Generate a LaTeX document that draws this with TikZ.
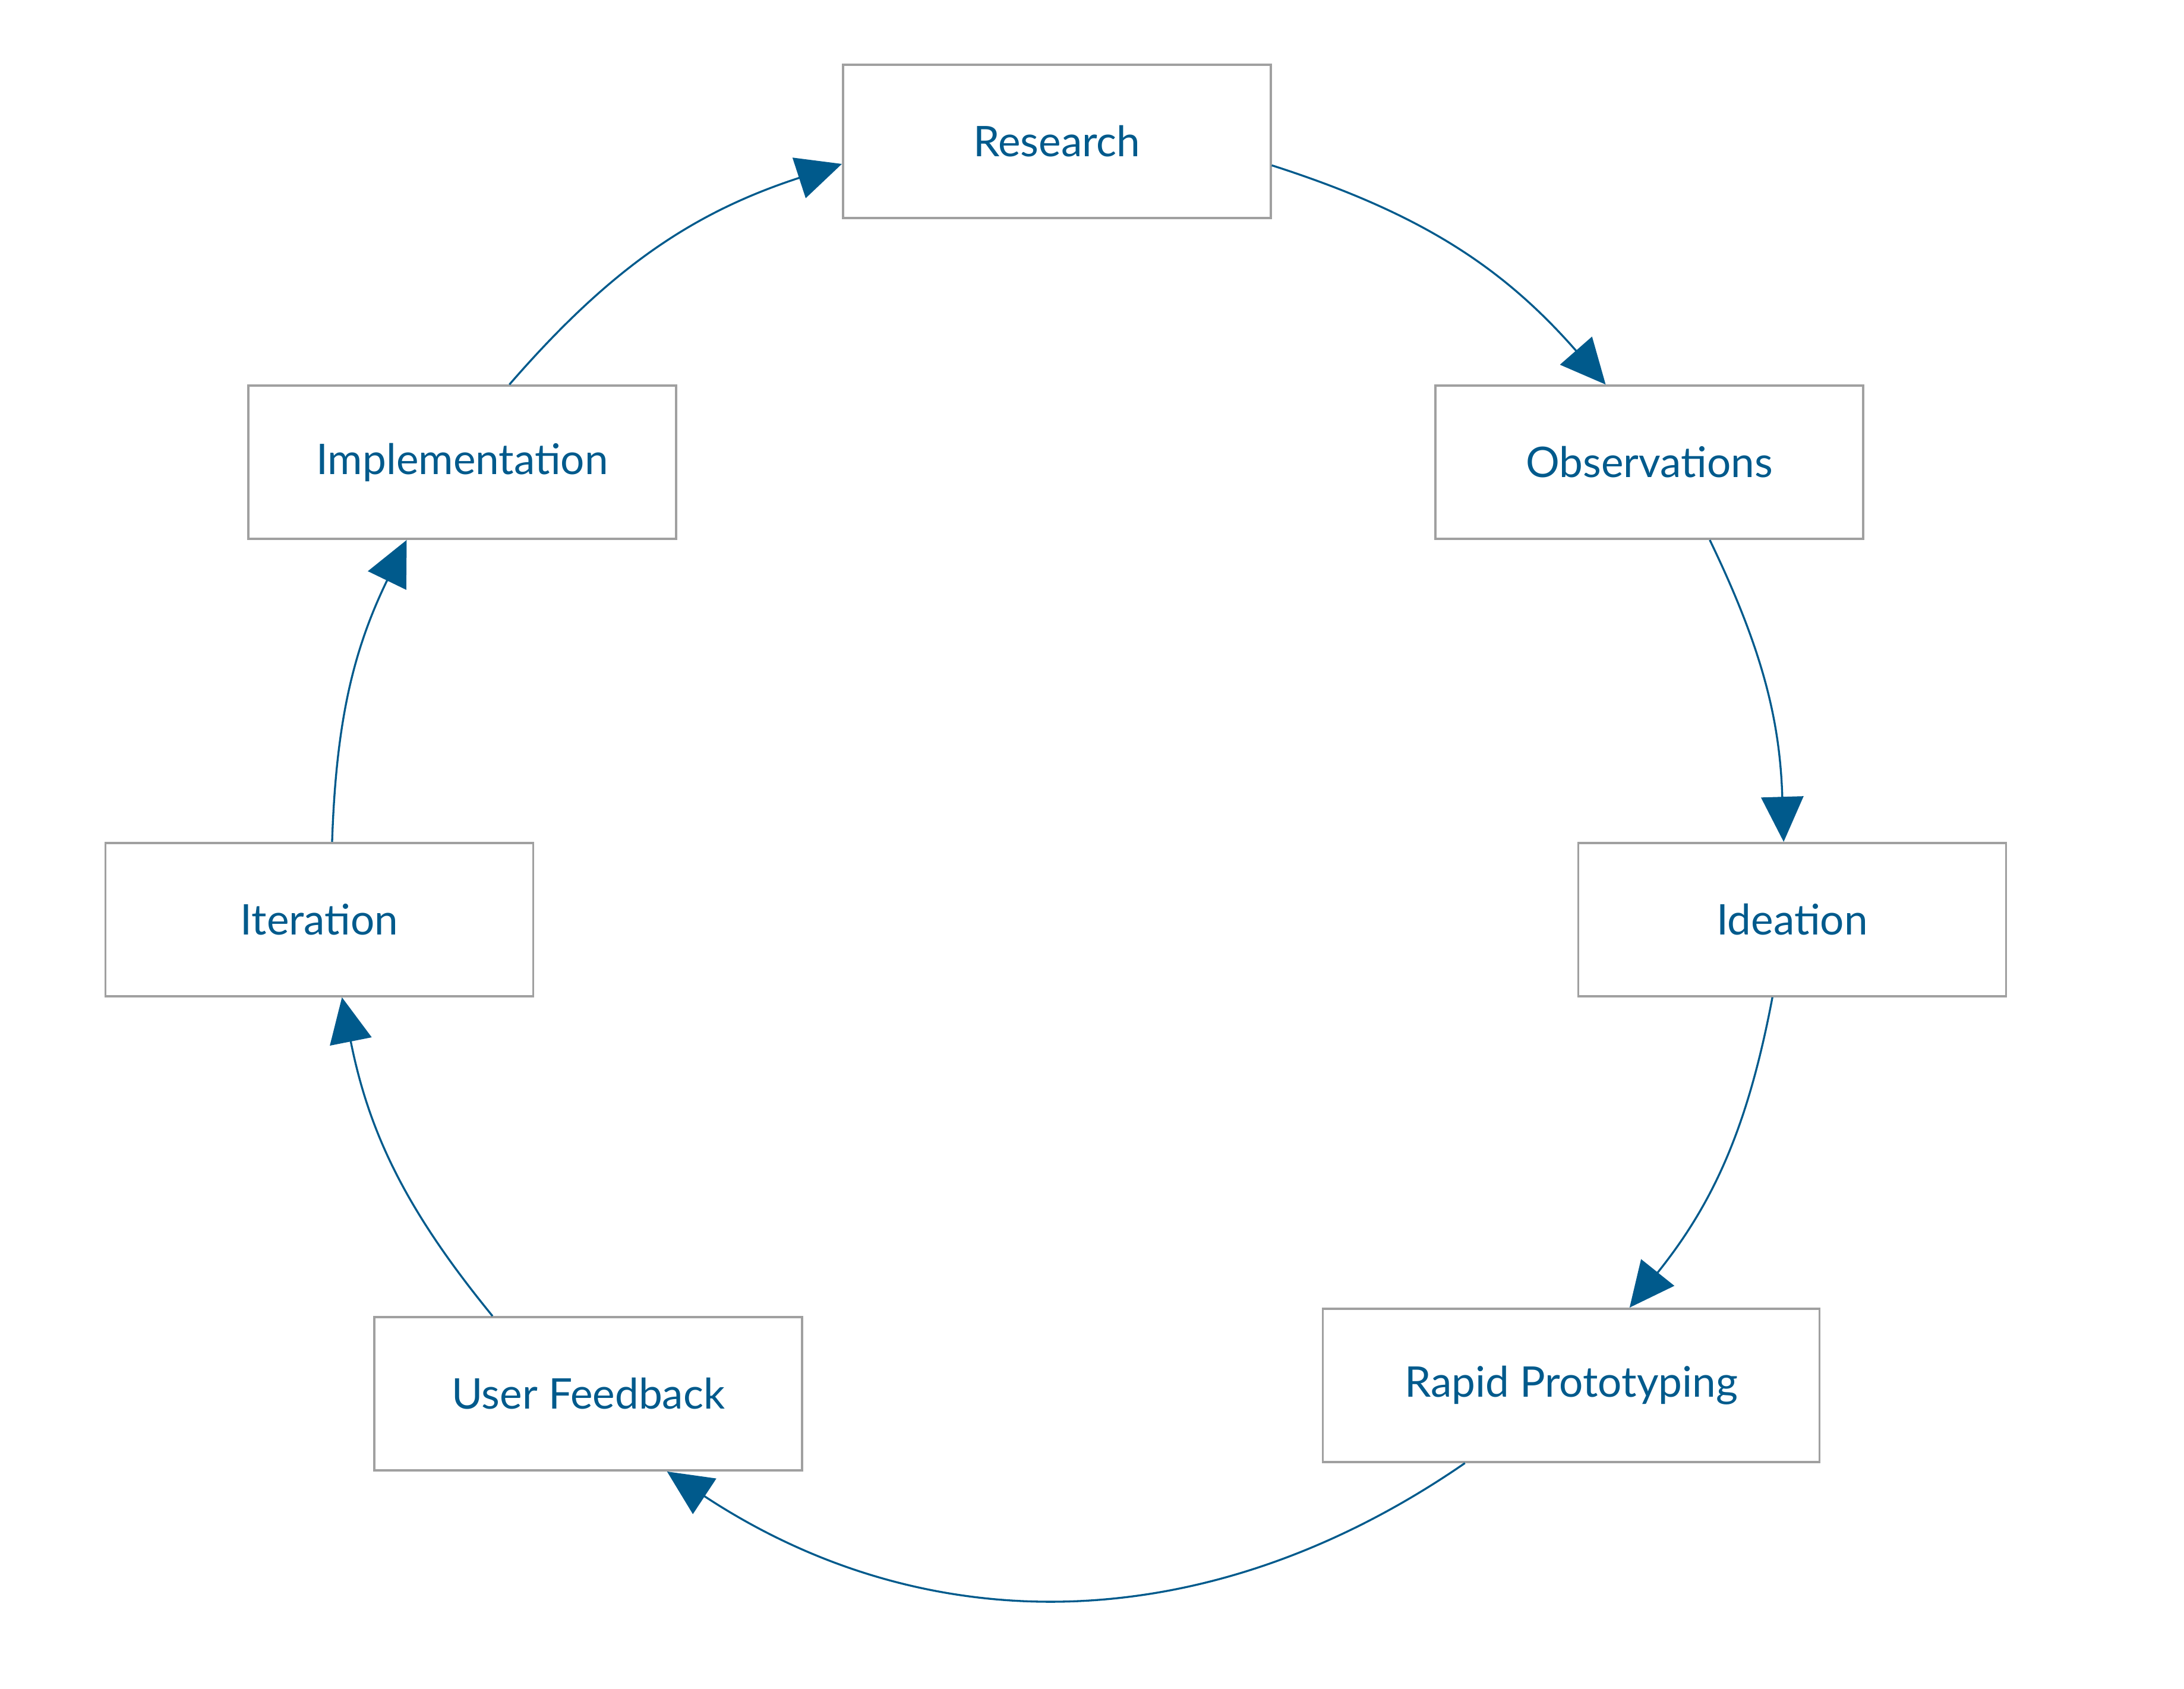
\documentclass[tikz,border=0pt]{standalone}
\usepackage{fontspec}
\setmainfont{Lato}
\usetikzlibrary{arrows.meta}
\definecolor{bl}{HTML}{005A8C}
\definecolor{gr}{HTML}{A0A0A0}
\begin{document}
\begin{tikzpicture}[x=0.5pt,y=-0.5pt,
 box/.style={draw=gr,line width=0.75pt,minimum height=54.5pt,minimum width=152pt,text=bl,font=\fontsize{15}{18}\selectfont,inner sep=0pt},
 arr/.style={draw=bl,line width=0.7pt,-{Triangle[length=16pt,width=15pt]}}]
\useasboundingbox (0,0) rectangle (1552,1200);
\node[box] (res) at (751,100.5) {Research};
\node[box] (obs) at (1172,328.5) {Observations};
\node[box] (ide) at (1273.5,653.5) {Ideation};
\node[box,minimum width=176.5pt] (rap) at (1116.5,984.5) {Rapid Prototyping};
\node[box] (usr) at (418,990.5) {User Feedback};
\node[box] (itr) at (227,653.5) {Iteration};
\node[box] (imp) at (328.5,328.5) {Implementation};
\draw[arr] ([yshift=-8.5pt]res.east) to[bend left=15.5] ([xshift=-15.5pt]obs.north);
\draw[arr] ([xshift=21.5pt]obs.south) to[bend left=12] ([xshift=-3pt]ide.north);
\draw[arr] ([xshift=-7pt]ide.south) to[bend left=14] ([xshift=20.75pt]rap.north);
\draw[arr] ([xshift=-37.75pt]rap.south) to[bend left=34] ([xshift=28pt]usr.south);
\draw[arr] ([xshift=-34pt]usr.north) to[bend left=14] ([xshift=8pt]itr.south);
\draw[arr] ([xshift=4.5pt]itr.north) to[bend left=12] ([xshift=-19.75pt]imp.south);
\draw[arr] ([xshift=16.75pt]imp.north) to[bend left=15.5] ([yshift=-8pt]res.west);
\end{tikzpicture}
\end{document}
